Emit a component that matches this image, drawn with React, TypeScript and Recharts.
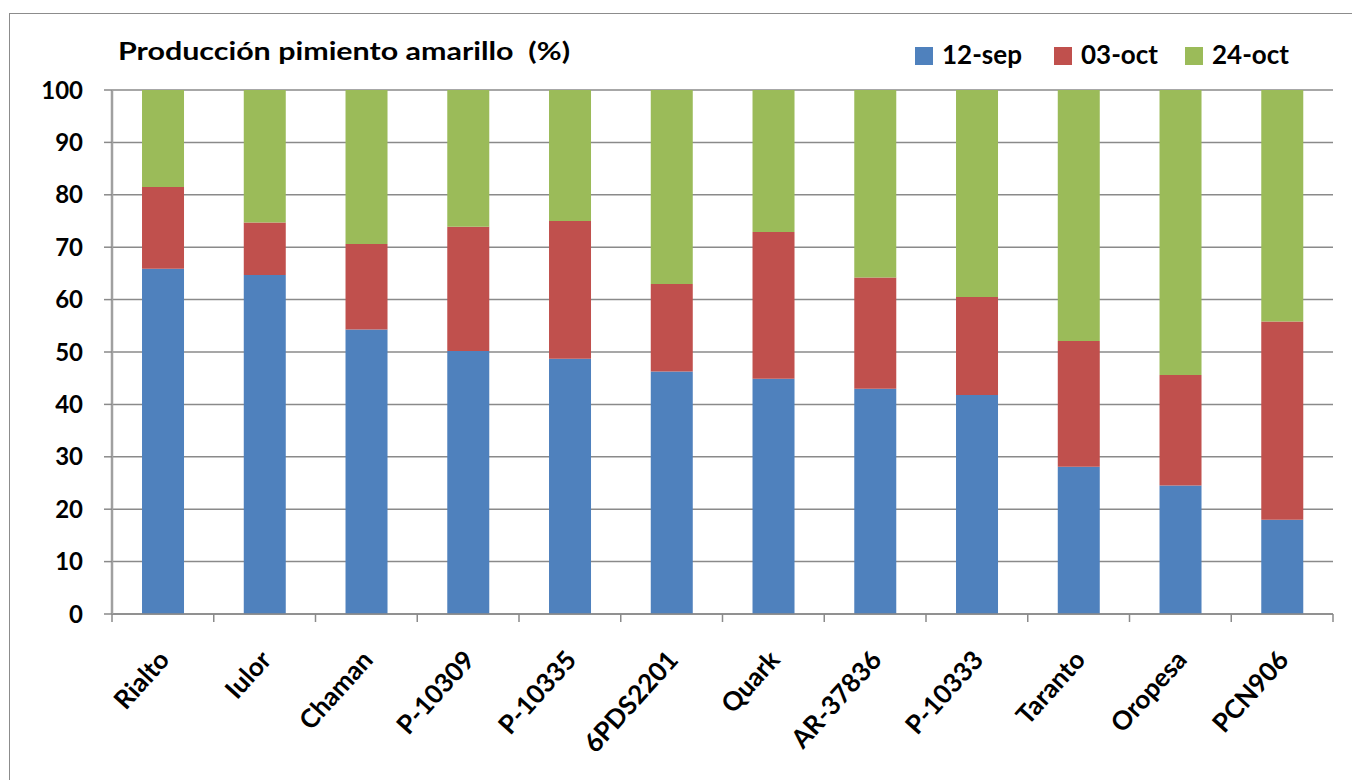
import React from 'react';
import { BarChart, Bar, XAxis, YAxis, CartesianGrid } from 'recharts';

const categories = ['Rialto', 'Iulor', 'Chaman', 'P-10309', 'P-10335', '6PDS2201', 'Quark', 'AR-37836', 'P-10333', 'Taranto', 'Oropesa', 'PCN906'];
const sep12 = [65.9, 64.7, 54.3, 50.2, 48.7, 46.3, 44.9, 43.0, 41.8, 28.1, 24.5, 18.0];
const oct03 = [15.6, 10.0, 16.3, 23.7, 26.3, 16.7, 28.0, 21.2, 18.7, 24.0, 21.1, 37.8];
const oct24 = [18.5, 25.3, 29.4, 26.1, 25.0, 37.0, 27.1, 35.8, 39.5, 47.9, 54.4, 44.2];
const yTicks = [0, 10, 20, 30, 40, 50, 60, 70, 80, 90, 100];
const seriesNames = ['12-sep', '03-oct', '24-oct'];
const colors = ['#4F81BD', '#C0504D', '#9BBB59'];
const title = 'Producción pimiento amarillo\u00a0\u00a0(%)';

const data = categories.map((c, i) => ({ name: c, s1: sep12[i], s2: oct03[i], s3: oct24[i] }));

const W = 1352;
const H = 780;
const PLOT_LEFT = 112;
const PLOT_RIGHT = 1333;
const BAND = (PLOT_RIGHT - PLOT_LEFT) / categories.length;
const FONT = 'Lato, "Open Sans", sans-serif';
const GRID = '#8a8a8a';

const XTick = (props: any) => {
  const { x, y, payload, index } = props;
  const half = BAND / 2;
  const ax = x + 8;
  const ay = y + 47;
  return (
    <g>
      <line x1={x - half} y1={y} x2={x - half} y2={y + 8} stroke={GRID} strokeWidth={1.5} />
      {index === categories.length - 1 && (
        <line x1={x + half} y1={y} x2={x + half} y2={y + 8} stroke={GRID} strokeWidth={1.5} />
      )}
      <text
        x={ax}
        y={ay}
        textAnchor="end"
        transform={`rotate(-48 ${ax} ${ay})`}
        fontFamily={FONT}
        fontWeight={700}
        fontSize={26}
        fill="#000"
      >
        {payload.value}
      </text>
    </g>
  );
};

const legendX = [915, 1054, 1185];

export default function App() {
  return (
    <div style={{ position: 'absolute', left: 0, top: 0, width: W, height: H, background: '#fff', overflow: 'hidden' }}>
      <div style={{ position: 'absolute', left: 9, top: 13, width: W + 20, height: H + 20, border: '1.5px solid #8c8c8c' }} />
      <div style={{ position: 'absolute', left: 0, top: 0 }}>
        <BarChart
          width={W}
          height={H}
          data={data}
          margin={{ top: 90, right: W - PLOT_RIGHT, bottom: 0, left: 0 }}
          barCategoryGap="29.5%"
        >
          <CartesianGrid vertical={false} stroke={GRID} strokeWidth={1.5} />
          <XAxis
            dataKey="name"
            height={166}
            interval={0}
            tickLine={false}
            tickSize={0}
            tickMargin={0}
            axisLine={{ stroke: GRID, strokeWidth: 1.5 }}
            tick={<XTick />}
          />
          <YAxis
            width={PLOT_LEFT}
            domain={[0, 100]}
            ticks={yTicks}
            interval={0}
            tickSize={8}
            tickMargin={21}
            tickLine={{ stroke: GRID, strokeWidth: 1.5 }}
            axisLine={{ stroke: '#a0a0a0', strokeWidth: 2.5 }}
            tick={{ fontFamily: FONT, fontWeight: 700, fontSize: 24, fill: '#000' }}
          />
          <YAxis
            yAxisId="r"
            orientation="right"
            width={0}
            domain={[0, 100]}
            tick={false}
            tickLine={false}
            axisLine={{ stroke: '#a0a0a0', strokeWidth: 2.5 }}
          />
          <Bar dataKey="s1" name={seriesNames[0]} stackId="a" fill={colors[0]} isAnimationActive={false} />
          <Bar dataKey="s2" name={seriesNames[1]} stackId="a" fill={colors[1]} isAnimationActive={false} />
          <Bar dataKey="s3" name={seriesNames[2]} stackId="a" fill={colors[2]} isAnimationActive={false} />
        </BarChart>
      </div>
      <svg width={W} height={90} style={{ position: 'absolute', left: 0, top: 0, pointerEvents: 'none' }}>
        <text
          x={118}
          y={60}
          fontFamily={FONT}
          fontWeight={700}
          fontSize={24}
          fill="#000"
          textLength={452}
          lengthAdjust="spacingAndGlyphs"
        >
          {title}
        </text>
        {seriesNames.map((n, i) => (
          <g key={n}>
            <rect x={legendX[i]} y={47} width={18} height={18} fill={colors[i]} />
            <text x={legendX[i] + 27} y={64} fontFamily={FONT} fontWeight={700} fontSize={26} fill="#000">
              {n}
            </text>
          </g>
        ))}
      </svg>
    </div>
  );
}
